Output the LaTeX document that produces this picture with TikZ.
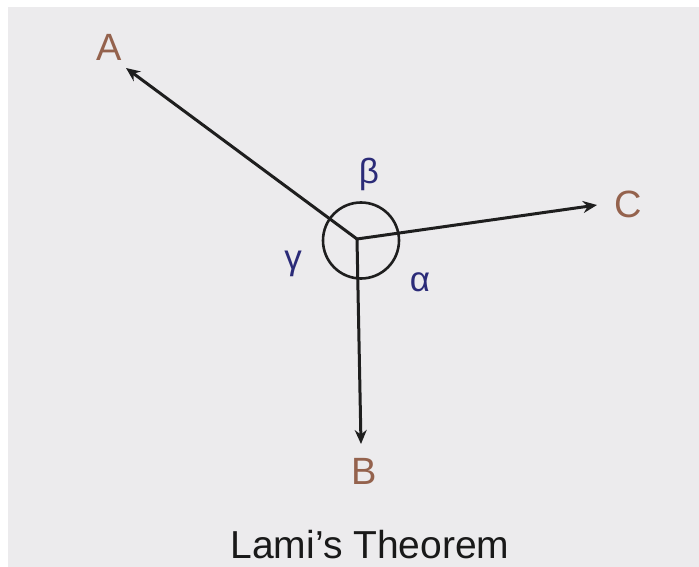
\documentclass[tikz,border=0pt]{standalone}
\usepackage{fontspec}
\setmainfont{Liberation Sans}
\usetikzlibrary{arrows.meta}
\definecolor{bg}{HTML}{ECEBED}
\definecolor{lbl}{HTML}{94624D}
\definecolor{grk}{HTML}{2B2B78}
\definecolor{ln}{HTML}{1E1E1E}
\begin{document}
\begin{tikzpicture}[x=1pt,y=-1pt,
  force/.style={draw=ln,line width=3pt,-{Stealth[length=14pt,width=12pt]}},
  pt/.style={text=lbl,font=\fontsize{38}{38}\selectfont,inner sep=0pt},
  ang/.style={text=grk,font=\fontsize{35}{35}\selectfont,inner sep=0pt}]
\useasboundingbox (0,0) rectangle (699,567);
\fill[white] (0,0) rectangle (699,567);
\fill[bg] (8,7) rectangle (699,567);
\coordinate (O) at (357,239);
\coordinate (tA) at (126,68);
\coordinate (tC) at (597,205);
\coordinate (tB) at (361,444);
\draw[force] (O) -- (tA);
\draw[force] (O) -- (tC);
\draw[force] (O) -- (tB);
\draw[ln,line width=2.6pt] (361,240.5) circle[radius=38];
\node[pt] (A) at (109,47) {A};
\node[pt] (C) at (628,204) {C};
\node[pt] (B) at (364,471) {B};
\node[ang] (beta) at (369,174) {β};
\node[ang] (gamma) at (293,264) {γ};
\node[ang] (alpha) at (420,282) {α};
\node[font=\fontsize{39}{39}\selectfont,text=black!90,inner sep=0pt] (title) at (370,545) {Lami’s Theorem};
\end{tikzpicture}
\end{document}
